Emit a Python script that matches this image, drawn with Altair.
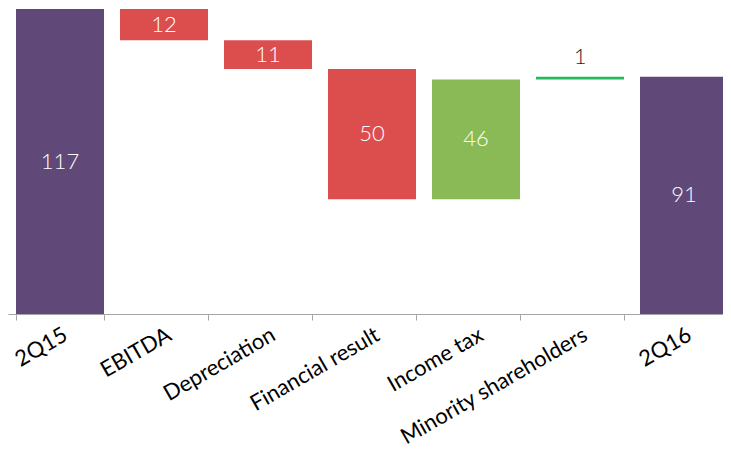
import altair as alt
import pandas as pd

categories = ["2Q15", "EBITDA", "Depreciation", "Financial result", "Income tax", "Minority shareholders", "2Q16"]
values = [117, -12, -11, -50, 46, 1, 91]
kinds = ["total", "delta", "delta", "delta", "delta", "delta", "total"]
colors = ["#604878", "#dc4e4e", "#dc4e4e", "#dc4e4e", "#8aba55", "#22bb5a", "#604878"]

rows = []
running = 0
for c, v, k, col in zip(categories, values, kinds, colors):
    if k == "total":
        start, end = 0, v
        running = v
    else:
        start, end = running, running + v
        running = end
    lo, hi = min(start, end), max(start, end)
    rows.append({"cat": c, "lo": lo, "hi": hi, "mid": (lo + hi) / 2,
                 "label": str(abs(v)), "color": col, "small": (hi - lo) < 5})
df = pd.DataFrame(rows)

x = alt.X("cat:N", sort=categories, title=None,
          scale=alt.Scale(paddingInner=0.15, paddingOuter=0.075),
          axis=alt.Axis(labelAngle=-30, labelAlign="right", labelBaseline="top",
                        labelFont="Lato", labelFontSize=22, labelFontWeight="normal", labelColor="#000000",
                        labelPadding=4, labelLimit=0, tickBand="extent", tickSize=6, tickColor="#a6a6a6",
                        domainColor="#a6a6a6", labelOverlap=False, labelFlush=False))
y = alt.Y("lo:Q", scale=alt.Scale(domain=[0, 117], nice=False, zero=True), axis=None)

base = alt.Chart(df)
bars = base.mark_bar(size=88).encode(
    x=x, y=y, y2="hi:Q", color=alt.Color("color:N", scale=None)
)
inside = base.transform_filter("!datum.small").mark_text(
    font="Lato", fontSize=22, color="white", fontWeight=300
).encode(x=alt.X("cat:N", sort=categories), y=alt.Y("mid:Q"), text="label:N")
above = base.transform_filter("datum.small").mark_text(
    font="Lato", fontSize=22, color="#262626", fontWeight=300, baseline="bottom", dy=-8
).encode(x=alt.X("cat:N", sort=categories), y=alt.Y("hi:Q"), text="label:N")

chart = alt.layer(bars, inside, above).properties(
    width=728, height=305,
    padding={"left": -1, "top": 1, "right": -13, "bottom": 0}
).configure_view(stroke=None)

chart.save("out.html", embed_options={"renderer": "svg", "actions": False})
